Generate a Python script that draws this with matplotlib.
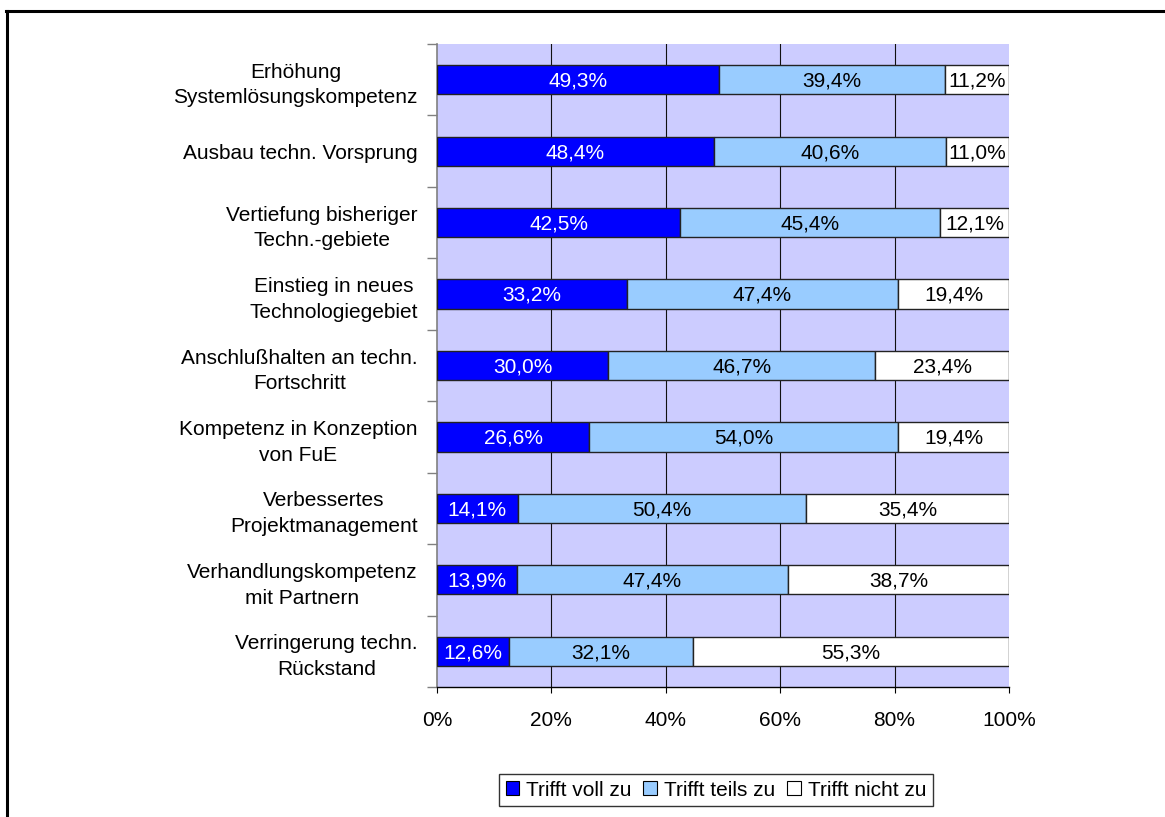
import matplotlib
matplotlib.use("Agg")
import matplotlib.pyplot as plt
from matplotlib.lines import Line2D
from matplotlib.patches import Patch
import numpy as np

plt.rcParams['font.family'] = ['Liberation Sans', 'DejaVu Sans']
FS = 15
plt.rcParams['font.size'] = FS

categories = [
    "Erhöhung\nSystemlösungskompetenz",
    "Ausbau techn. Vorsprung",
    "Vertiefung bisheriger\nTechn.-gebiete",
    "Einstieg in neues\nTechnologiegebiet",
    "Anschlußhalten an techn.\nFortschritt",
    "Kompetenz in Konzeption\nvon FuE",
    "Verbessertes\nProjektmanagement",
    "Verhandlungskompetenz\nmit Partnern",
    "Verringerung techn.\nRückstand",
]
voll = [49.3, 48.4, 42.5, 33.2, 30.0, 26.6, 14.1, 13.9, 12.6]
teils = [39.4, 40.6, 45.4, 47.4, 46.7, 54.0, 50.4, 47.4, 32.1]
nicht = [11.2, 11.0, 12.1, 19.4, 23.4, 19.4, 35.4, 38.7, 55.3]
series_names = ["Trifft voll zu", "Trifft teils zu", "Trifft nicht zu"]
colors = ["#0000FF", "#99CCFF", "#FFFFFF"]
text_colors = ["white", "black", "black"]
xticks = [0, 20, 40, 60, 80, 100]
xticklabels = ["0%", "20%", "40%", "60%", "80%", "100%"]

W, H = 1165, 817
fig = plt.figure(figsize=(W / 100, H / 100), dpi=100)
ax = fig.add_axes([437 / W, 1 - 687 / H, (1009 - 437) / W, (687 - 44) / H])
ax.set_facecolor("#CCCCFF")

data = np.array([voll, teils, nicht])
totals = data.sum(axis=0)
norm = data / totals * 100
y = np.arange(len(categories))
left = np.zeros(len(categories))
for i in range(3):
    ax.barh(y, norm[i], left=left, height=0.41, color=colors[i],
            edgecolor="#222222", linewidth=1.0, zorder=3, label=series_names[i])
    for j in range(len(categories)):
        ax.text(left[j] + norm[i][j] / 2, y[j] + 0.02, f"{data[i][j]:.1f}%".replace(".", ","),
                ha="center", va="center", color=text_colors[i], fontsize=FS, zorder=4)
    left += norm[i]

ax.set_xlim(0, 100)
ax.set_ylim(len(categories) - 0.5, -0.5)

for xv in xticks[1:-1]:
    ax.axvline(xv, color="#111111", linewidth=0.8, zorder=1)

ax.set_xticks(xticks)
ax.set_xticklabels(xticklabels)
ax.tick_params(axis="x", length=4, width=0.8, color="black", pad=13)

ax.set_yticks(y)
ax.set_yticklabels(categories)
ax.set_yticks(np.arange(-0.5, len(categories) + 0.5, 1), minor=True)
ax.tick_params(axis="y", which="major", length=0, pad=14)
ax.tick_params(axis="y", which="minor", length=7, width=1, color="#808080")
for lab in ax.get_yticklabels():
    lab.set_multialignment("center")
    lab.set_linespacing(1.45)

for s in ["top", "right"]:
    ax.spines[s].set_visible(False)
ax.spines["left"].set_color("#808080")
ax.spines["left"].set_linewidth(1.2)
ax.spines["bottom"].set_color("black")
ax.spines["bottom"].set_linewidth(1.0)

handles = [Patch(facecolor=c, edgecolor="black", linewidth=0.8) for c in colors]
leg = fig.legend(handles, series_names, loc="center", bbox_to_anchor=(716 / W, 1 - 790 / H),
                 ncol=3, frameon=True, fancybox=False, edgecolor="black",
                 handlelength=0.65, handleheight=0.65, handletextpad=0.35, columnspacing=0.55,
                 borderpad=0.3, borderaxespad=0, fontsize=FS)
leg.get_frame().set_linewidth(1.0)

# outer frame (left and top edges visible)
fig.add_artist(Line2D([6.5 / W, 6.5 / W], [0, 1 - 10.5 / H], transform=fig.transFigure,
                      color="black", linewidth=2.2))
fig.add_artist(Line2D([5.5 / W, 1], [1 - 10.5 / H, 1 - 10.5 / H], transform=fig.transFigure,
                      color="black", linewidth=2.2))

fig.savefig("out.png", dpi=100)
